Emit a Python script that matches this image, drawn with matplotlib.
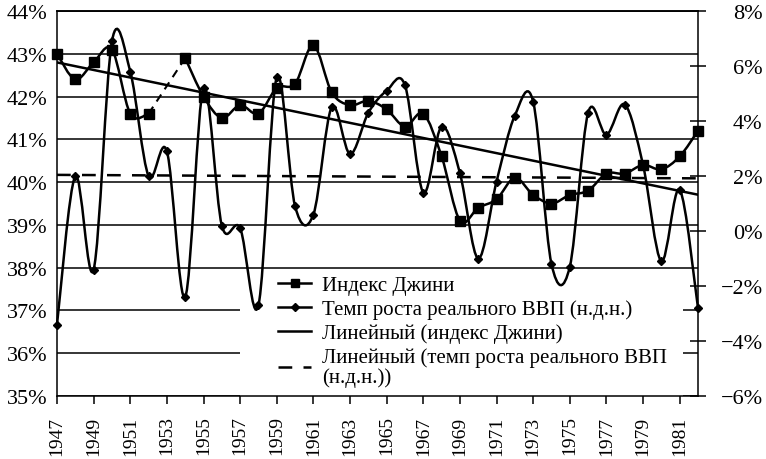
import numpy as np
import matplotlib
matplotlib.use("Agg")
import matplotlib.pyplot as plt
from matplotlib.path import Path
from matplotlib.patches import PathPatch, Rectangle
from matplotlib.lines import Line2D

plt.rcParams['font.family'] = ['Liberation Serif', 'DejaVu Serif']

years = np.arange(1947, 1983)
# Gini index, % (1953 missing)
gini = [43.0, 42.4, 42.8, 43.1, 41.6, 41.6, np.nan, 42.9, 42.0, 41.5, 41.8, 41.6,
        42.2, 42.3, 43.2, 42.1, 41.8, 41.9, 41.7, 41.3, 41.6, 40.6, 39.1, 39.4,
        39.6, 40.1, 39.7, 39.5, 39.7, 39.8, 40.2, 40.2, 40.4, 40.3, 40.6, 41.2]
# real GDP growth, %
gdp = [-3.4, 2.0, -1.4, 6.9, 5.8, 2.0, 2.9, -2.4, 5.2, 0.2, 0.1, -2.7,
       5.6, 0.9, 0.6, 4.5, 2.8, 4.3, 5.1, 5.3, 1.4, 3.8, 2.1, -1.0,
       1.8, 4.2, 4.7, -1.2, -1.3, 4.3, 3.5, 4.6, 2.4, -1.1, 1.5, -2.8]

left_ticks = list(range(35, 45))
right_ticks = list(range(-6, 9, 2))
year_ticks = list(range(1947, 1982, 2))

labels = ["Индекс Джини",
          "Темп роста реального ВВП (н.д.н.)",
          "Линейный (индекс Джини)",
          "Линейный (темп роста реального ВВП\n(н.д.н.))"]

gini = np.array(gini)
gdp = np.array(gdp)


def smooth_path(x, y):
    # Excel-like smoothed line through the points
    pts = np.column_stack([x, y]).astype(float)
    n = len(pts)
    verts = [pts[0]]
    codes = [Path.MOVETO]
    for i in range(n - 1):
        p0 = pts[i - 1] if i > 0 else pts[i]
        p1 = pts[i]
        p2 = pts[i + 1]
        p3 = pts[i + 2] if i + 2 < n else pts[i + 1]
        verts += [p1 + (p2 - p0) / 6, p2 - (p3 - p1) / 6, p2]
        codes += [Path.CURVE4] * 3
    return Path(verts, codes)


fig = plt.figure(figsize=(7.66, 4.60), dpi=100)
ax = fig.add_axes([57 / 766, 63 / 460, 641 / 766, 385 / 460])
ax.set_xlim(1947, 1982)
ax.set_ylim(35, 44)
ax.set_axisbelow(True)
ax.yaxis.grid(True, color='black', lw=1.1)

# white legend area hides the grid
ax.add_patch(Rectangle((0.285, 0.0), 0.692, 0.325, transform=ax.transAxes,
                       facecolor='white', edgecolor='none', zorder=1))

lw = 1.8
ok = ~np.isnan(gini)
gap = np.where(~ok)[0][0]
for seg in (slice(0, gap), slice(gap + 1, None)):
    ax.add_patch(PathPatch(smooth_path(years[seg], gini[seg]), fill=False,
                           lw=lw, edgecolor='black', zorder=3, clip_on=False))
ax.plot([years[gap - 1], years[gap + 1]], [gini[gap - 1], gini[gap + 1]],
        color='black', lw=1.5, ls=(0, (4, 3)), zorder=3)
ax.plot(years, gini, ls='none', marker='s', ms=6.5, color='black',
        zorder=4, clip_on=False)

k, b = np.polyfit(years[ok], gini[ok], 1)
ax.plot(years, k * years + b, color='black', lw=lw, zorder=3)

ax2 = ax.twinx()
ax2.set_ylim(-6, 8)
ax2.add_patch(PathPatch(smooth_path(years, gdp), fill=False, lw=lw,
                        edgecolor='black', zorder=3, clip_on=False))
ax2.plot(years, gdp, ls='none', marker='D', ms=4.5, color='black',
         zorder=4, clip_on=False)
k2, b2 = np.polyfit(years, gdp, 1)
ax2.plot(years, k2 * years + b2, color='black', lw=lw, ls=(0, (5.5, 4.5)),
         zorder=3)

# axes styling
for a in (ax, ax2):
    for s in a.spines.values():
        s.set_linewidth(1.1)
        s.set_color('black')
ax.spines['right'].set_visible(False)
ax2.spines['left'].set_visible(False)
ax2.spines['bottom'].set_visible(False)

ax.set_yticks(left_ticks, [f"{v}%" for v in left_ticks])
ax.tick_params(axis='y', length=0, pad=7, labelsize=16)
ax.set_xticks(year_ticks, [str(y) for y in year_ticks])
ax.tick_params(axis='x', direction='out', length=6, width=1.1, pad=8,
               labelsize=14, labelrotation=90)

ax2.set_yticks(right_ticks,
               [f"{v}%".replace('-', '\u2212') for v in right_ticks])
ax2.tick_params(axis='y', direction='inout', length=12, width=1.1,
                pad=40.5, labelsize=16)
for t in ax2.get_yticklabels():
    t.set_horizontalalignment('right')

handles = [
    Line2D([], [], color='black', lw=lw, marker='s', ms=6),
    Line2D([], [], color='black', lw=lw, marker='D', ms=4),
    Line2D([], [], color='black', lw=lw),
    Line2D([], [], color='black', lw=lw, ls=(0, (5.5, 4.5))),
]
leg = ax2.legend(handles, labels, loc='upper left',
                 bbox_to_anchor=(0.345, 0.312), frameon=False, fontsize=15,
                 borderpad=0, borderaxespad=0, handlelength=1.6,
                 handletextpad=0.5, labelspacing=0.2)
for t in leg.get_texts():
    t.set_linespacing(1.0)
leg.set_zorder(10)

fig.savefig("out.png", dpi=100)
